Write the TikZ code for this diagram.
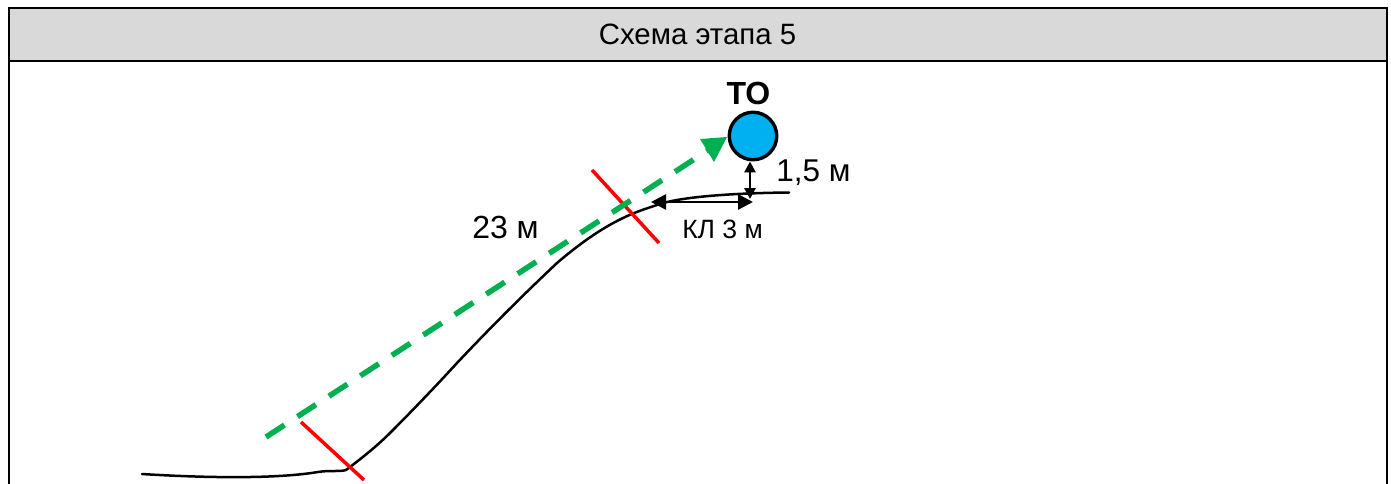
\documentclass[tikz,border=0pt]{standalone}
\usepackage{fontspec}
\setmainfont{Liberation Sans}
\usetikzlibrary{arrows.meta}
\definecolor{hdr}{HTML}{D9D9D9}
\definecolor{tocol}{HTML}{00B0F0}
\definecolor{grn}{HTML}{00B050}
\tikzset{
  frameline/.style={black,line width=2.4pt},
  redtick/.style={red,line width=3.5pt},
  ground/.style={black,line width=2.5pt,line cap=round,line join=round},
  distline/.style={grn,line width=5.5pt,dash pattern=on 22pt off 15.5pt},
  disthead/.style={fill=grn,draw=none},
  dim/.style={black,line width=2.7pt,{Triangle[length=#1,width=#1]}-{Triangle[length=#1,width=#1]}},
  lbl/.style={inner sep=0pt,font=\fontsize{#1}{#1}\selectfont,text=black},
}
\begin{document}
\begin{tikzpicture}[x=1pt,y=-1pt]
\useasboundingbox (0,0) rectangle (1391,484);
\coordinate (fTL) at (9,8); \coordinate (fTR) at (1387,8);
\coordinate (fBL) at (9,484); \coordinate (fBR) at (1387,484);
\coordinate (hL) at (9,61); \coordinate (hR) at (1387,61);
\fill[hdr] (fTL) rectangle (hR);
\draw[frameline] (fBL) -- (fTL) -- (fTR) -- (fBR);
\draw[frameline] (hL) -- (hR);
\node[lbl=29.4] (title) at (697.5,34.5) {Схема этапа 5};

% ground
\draw[ground] (142,474) .. controls (190,477) and (270,480) .. (318,472)
  .. controls (330,470) and (340,472) .. (346,470)
  .. controls (362,458) and (377,446) .. (390,433)
  .. controls (412,411) and (435,387) .. (457,363)
  .. controls (490,328) and (523,295) .. (557,263)
  .. controls (578,245) and (600,229) .. (623,218)
  .. controls (635,212) and (648,208) .. (660,204)
  .. controls (685,196) and (740,193) .. (789,192.5);

% red ticks
\coordinate (r1a) at (592,170); \coordinate (r1b) at (659,243);
\coordinate (r2a) at (301,422); \coordinate (r2b) at (364,480);
\draw[redtick] (r1a) -- (r1b);
\draw[redtick] (r2a) -- (r2b);

% target
\node[circle,draw=black,line width=3.4pt,fill=tocol,minimum size=47.5pt,inner sep=0pt] (to) at (753,136) {};
\node[inner sep=0pt,font=\fontsize{32}{32}\selectfont\bfseries] (tolabel) at (748.5,93.5) {ТО};

% distance
\coordinate (dstart) at (266,437);
\coordinate (dend) at (710,149);
\draw[distline] (dstart) -- (dend);
\fill[disthead] (to.west) ++(-0.5,1) coordinate (tip) -- (700,139) -- (714,162) -- cycle;

% dimensions
\coordinate (kl1) at (651,202); \coordinate (kl2) at (753,202);
\draw[dim=15pt] (kl1) -- (kl2);
\coordinate (v2) at (750,199);
\draw[dim=11pt] (to.south -| v2) -- (v2);

\node[lbl=31.5] (h) at (813.5,173) {1,5 м};
\node[lbl=32] (d) at (505.5,227) {23 м};
\node[lbl=26.5] (kl) at (722.5,229) {КЛ 3 м};
\end{tikzpicture}
\end{document}
